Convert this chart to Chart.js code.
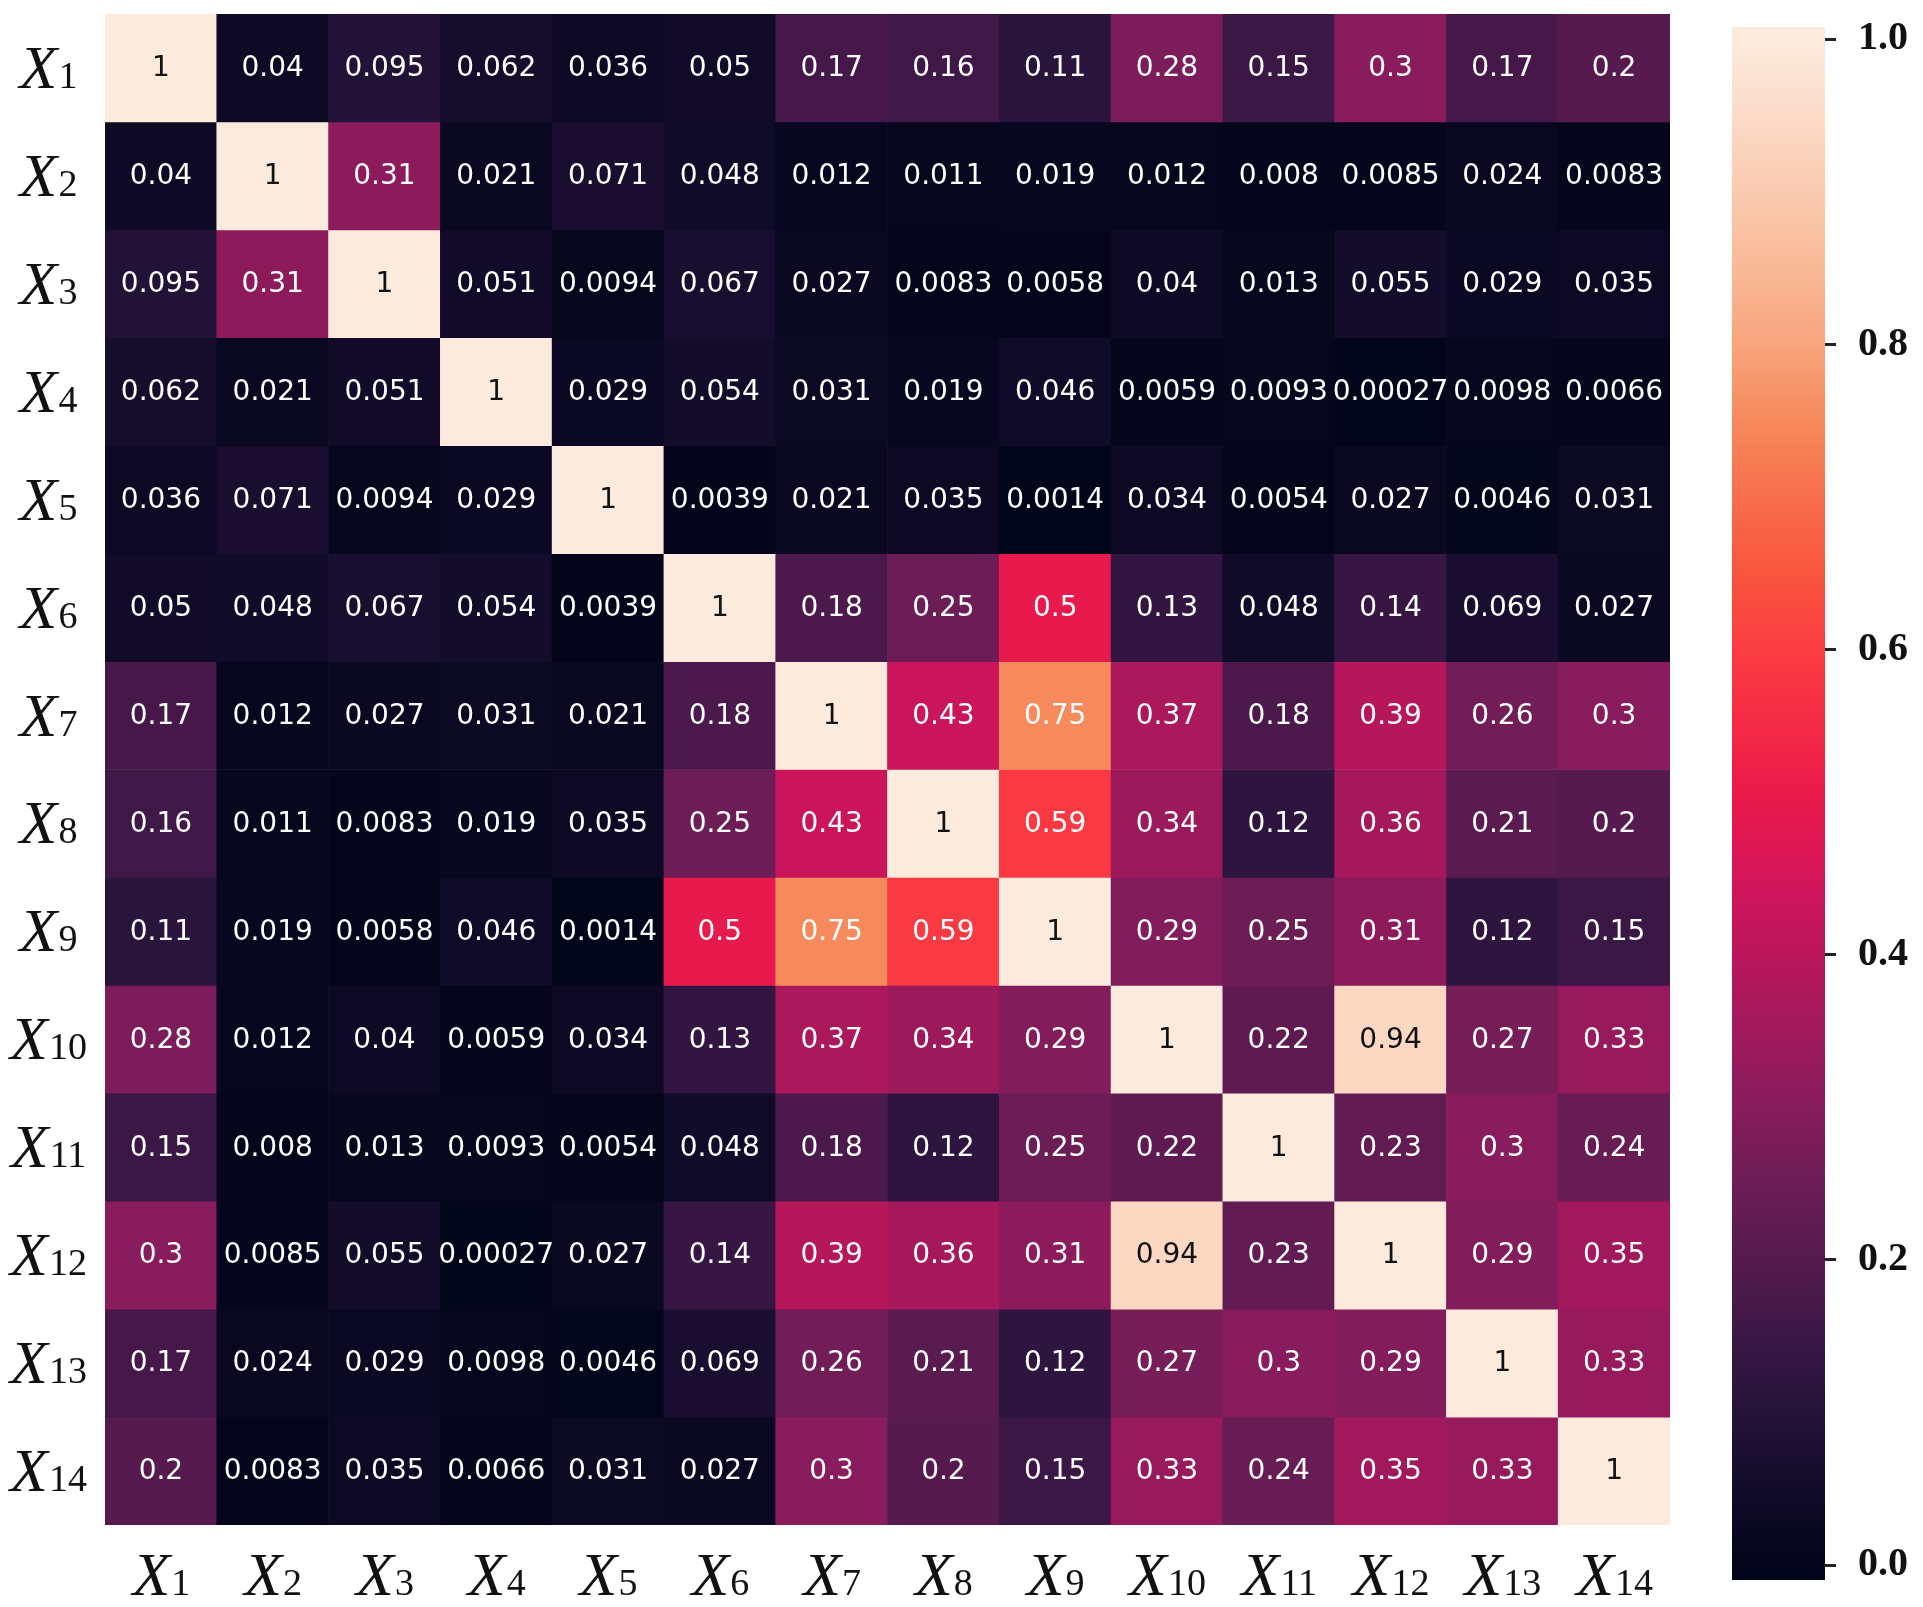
<!DOCTYPE html>
<html>
<head>
<meta charset="utf-8">
<script src="https://cdn.jsdelivr.net/npm/chart.js@4.4.1/dist/chart.umd.min.js"></script>
<style>
  html, body { margin: 0; padding: 0; background: #fff; }
  #wrap { position: relative; width: 1923px; height: 1607px; }
  #heat { position: absolute; left: 0; top: 0; }
  #cbar { position: absolute; left: 1700px; top: 0; }
</style>
</head>
<body>
<div id="wrap">
  <canvas id="heat" width="1700" height="1607"></canvas>
  <canvas id="cbar" width="223" height="1607"></canvas>
</div>
<script>
// variables (rows and columns share the same labels)
const varLabels = ['X1', 'X2', 'X3', 'X4', 'X5', 'X6', 'X7', 'X8', 'X9', 'X10', 'X11', 'X12', 'X13', 'X14'];

// correlation matrix, one array per row
const rowX1  = [1, 0.04, 0.095, 0.062, 0.036, 0.05, 0.17, 0.16, 0.11, 0.28, 0.15, 0.3, 0.17, 0.2];
const rowX2  = [0.04, 1, 0.31, 0.021, 0.071, 0.048, 0.012, 0.011, 0.019, 0.012, 0.008, 0.0085, 0.024, 0.0083];
const rowX3  = [0.095, 0.31, 1, 0.051, 0.0094, 0.067, 0.027, 0.0083, 0.0058, 0.04, 0.013, 0.055, 0.029, 0.035];
const rowX4  = [0.062, 0.021, 0.051, 1, 0.029, 0.054, 0.031, 0.019, 0.046, 0.0059, 0.0093, 0.00027, 0.0098, 0.0066];
const rowX5  = [0.036, 0.071, 0.0094, 0.029, 1, 0.0039, 0.021, 0.035, 0.0014, 0.034, 0.0054, 0.027, 0.0046, 0.031];
const rowX6  = [0.05, 0.048, 0.067, 0.054, 0.0039, 1, 0.18, 0.25, 0.5, 0.13, 0.048, 0.14, 0.069, 0.027];
const rowX7  = [0.17, 0.012, 0.027, 0.031, 0.021, 0.18, 1, 0.43, 0.75, 0.37, 0.18, 0.39, 0.26, 0.3];
const rowX8  = [0.16, 0.011, 0.0083, 0.019, 0.035, 0.25, 0.43, 1, 0.59, 0.34, 0.12, 0.36, 0.21, 0.2];
const rowX9  = [0.11, 0.019, 0.0058, 0.046, 0.0014, 0.5, 0.75, 0.59, 1, 0.29, 0.25, 0.31, 0.12, 0.15];
const rowX10 = [0.28, 0.012, 0.04, 0.0059, 0.034, 0.13, 0.37, 0.34, 0.29, 1, 0.22, 0.94, 0.27, 0.33];
const rowX11 = [0.15, 0.008, 0.013, 0.0093, 0.0054, 0.048, 0.18, 0.12, 0.25, 0.22, 1, 0.23, 0.3, 0.24];
const rowX12 = [0.3, 0.0085, 0.055, 0.00027, 0.027, 0.14, 0.39, 0.36, 0.31, 0.94, 0.23, 1, 0.29, 0.35];
const rowX13 = [0.17, 0.024, 0.029, 0.0098, 0.0046, 0.069, 0.26, 0.21, 0.12, 0.27, 0.3, 0.29, 1, 0.33];
const rowX14 = [0.2, 0.0083, 0.035, 0.0066, 0.031, 0.027, 0.3, 0.2, 0.15, 0.33, 0.24, 0.35, 0.33, 1];

// colorbar
const colorbarTicks = [0, 0.2, 0.4, 0.6, 0.8, 1.0];
const colorbarSpan = [-0.0098, 1.0079];

const matrix = [rowX1, rowX2, rowX3, rowX4, rowX5, rowX6, rowX7, rowX8, rowX9, rowX10, rowX11, rowX12, rowX13, rowX14];

// "rocket"-like colormap, tuned to the picture
const cmapPos = [0, 0.05, 0.1, 0.15, 0.2, 0.25, 0.3, 0.35, 0.4, 0.45, 0.5, 0.55, 0.6, 0.65, 0.7, 0.75, 0.8, 0.85, 0.9, 0.95, 1];
const cmapHex = ['#03051a', '#110b29', '#25133a', '#3b1746', '#561a4e', '#6c1d56', '#881c5c', '#a1195c',
                 '#bb165b', '#d4155a', '#e8194c', '#f42a45', '#fb3d42', '#f9553e', '#f76e4b', '#f68a5c',
                 '#f8a47d', '#f9b996', '#facab0', '#fcdbc8', '#fcebdd'];

function hexToRgb(h) {
  return [parseInt(h.slice(1, 3), 16), parseInt(h.slice(3, 5), 16), parseInt(h.slice(5, 7), 16)];
}

function colorFor(v) {
  v = Math.max(0, Math.min(1, v));
  let k = 0;
  while (k < cmapPos.length - 2 && v > cmapPos[k + 1]) k++;
  const t = (v - cmapPos[k]) / (cmapPos[k + 1] - cmapPos[k]);
  const a = hexToRgb(cmapHex[k]), b = hexToRgb(cmapHex[k + 1]);
  const c = a.map((x, i) => Math.round(x + (b[i] - x) * t));
  return 'rgb(' + c.join(',') + ')';
}

function luminance(rgbStr) {
  const c = rgbStr.match(/\d+/g).map(Number).map(x => {
    x /= 255;
    return x <= 0.03928 ? x / 12.92 : Math.pow((x + 0.055) / 1.055, 2.4);
  });
  return 0.2126 * c[0] + 0.7152 * c[1] + 0.0722 * c[2];
}

// X with upright subscript digits
function drawVarLabel(ctx, name, cx, baseline) {
  const main = name.charAt(0), sub = name.slice(1);
  ctx.font = 'italic 62px "Liberation Serif"';
  const w1 = ctx.measureText(main).width;
  ctx.font = '38px "Liberation Serif"';
  const w2 = ctx.measureText(sub).width;
  const x0 = cx - (w1 + w2) / 2;
  ctx.textAlign = 'left';
  ctx.textBaseline = 'alphabetic';
  ctx.fillStyle = '#111';
  ctx.font = 'italic 62px "Liberation Serif"';
  ctx.fillText(main, x0, baseline);
  ctx.font = '38px "Liberation Serif"';
  ctx.fillText(sub, x0 + w1 + 1, baseline);
}

const cellText = {
  id: 'cellText',
  afterDatasetsDraw(chart) {
    const ctx = chart.ctx;
    ctx.save();
    ctx.font = '28px "DejaVu Sans"';
    ctx.textAlign = 'center';
    ctx.textBaseline = 'middle';
    chart.data.datasets.forEach((ds, i) => {
      chart.getDatasetMeta(i).data.forEach((el, j) => {
        const v = matrix[i][j];
        const p = el.getProps(['x', 'y', 'base'], true);
        ctx.fillStyle = luminance(colorFor(v)) > 0.408 ? '#111' : '#fff';
        ctx.fillText(String(v), p.x, (p.y + p.base) / 2 + 1);
      });
    });
    ctx.restore();
  }
};

const axisLabels = {
  id: 'axisLabels',
  afterDraw(chart) {
    const ctx = chart.ctx;
    const xs = chart.scales.x, ys = chart.scales.y, area = chart.chartArea;
    ctx.save();
    varLabels.forEach((name, k) => {
      drawVarLabel(ctx, name, xs.getPixelForValue(k), area.bottom + 70);
      const cy = (ys.getPixelForValue(k) + ys.getPixelForValue(k + 1)) / 2;
      drawVarLabel(ctx, name, area.left - 57, cy + 20);
    });
    ctx.restore();
  }
};

new Chart(document.getElementById('heat'), {
  type: 'bar',
  data: {
    labels: varLabels,
    datasets: matrix.map((row, i) => ({
      label: varLabels[i],
      data: row.map(() => [i, i + 1]),
      backgroundColor: row.map(v => colorFor(v)),
      borderWidth: 0,
      grouped: false,
      barPercentage: 1,
      categoryPercentage: 1
    }))
  },
  options: {
    responsive: false,
    animation: false,
    devicePixelRatio: 1,
    layout: { padding: { left: 105, right: 30, top: 14, bottom: 82 } },
    plugins: { legend: { display: false }, tooltip: { enabled: false } },
    scales: {
      x: { type: 'category', display: false },
      y: { type: 'linear', min: 0, max: varLabels.length, reverse: true, display: false }
    }
  },
  plugins: [cellText, axisLabels]
});

new Chart(document.getElementById('cbar'), {
  type: 'bar',
  data: {
    labels: [''],
    datasets: [{
      data: [colorbarSpan],
      borderWidth: 0,
      barPercentage: 1,
      categoryPercentage: 1,
      backgroundColor(context) {
        const chart = context.chart;
        const ys = chart.scales.y;
        if (!chart.chartArea || !ys) return cmapHex[0];
        const y0 = ys.getPixelForValue(colorbarSpan[0]);
        const y1 = ys.getPixelForValue(colorbarSpan[1]);
        const g = chart.ctx.createLinearGradient(0, y0, 0, y1);
        const lo = colorbarSpan[0], hi = colorbarSpan[1];
        g.addColorStop(0, colorFor(lo));
        cmapPos.forEach(p => g.addColorStop((p - lo) / (hi - lo), colorFor(p)));
        g.addColorStop(1, colorFor(hi));
        return g;
      }
    }]
  },
  options: {
    responsive: false,
    animation: false,
    devicePixelRatio: 1,
    layout: { padding: { left: 32, right: 0, top: 27, bottom: 27 } },
    plugins: { legend: { display: false }, tooltip: { enabled: false } },
    scales: {
      x: { display: false },
      y: {
        position: 'right',
        min: colorbarSpan[0],
        max: colorbarSpan[1],
        afterFit(scale) {
          scale.width = 98;
          scale.paddingTop = 0;
          scale.paddingBottom = 0;
        },
        afterBuildTicks(scale) { scale.ticks = colorbarTicks.map(v => ({ value: v })); },
        border: { display: false },
        grid: { drawOnChartArea: false, drawTicks: true, tickLength: 11, tickWidth: 3, tickColor: '#222' },
        ticks: {
          padding: 22,
          color: '#111',
          font: { family: 'Liberation Serif', size: 40, weight: 'bold' },
          callback: v => Number(v).toFixed(1)
        }
      }
    }
  }
});
</script>
</body>
</html>
